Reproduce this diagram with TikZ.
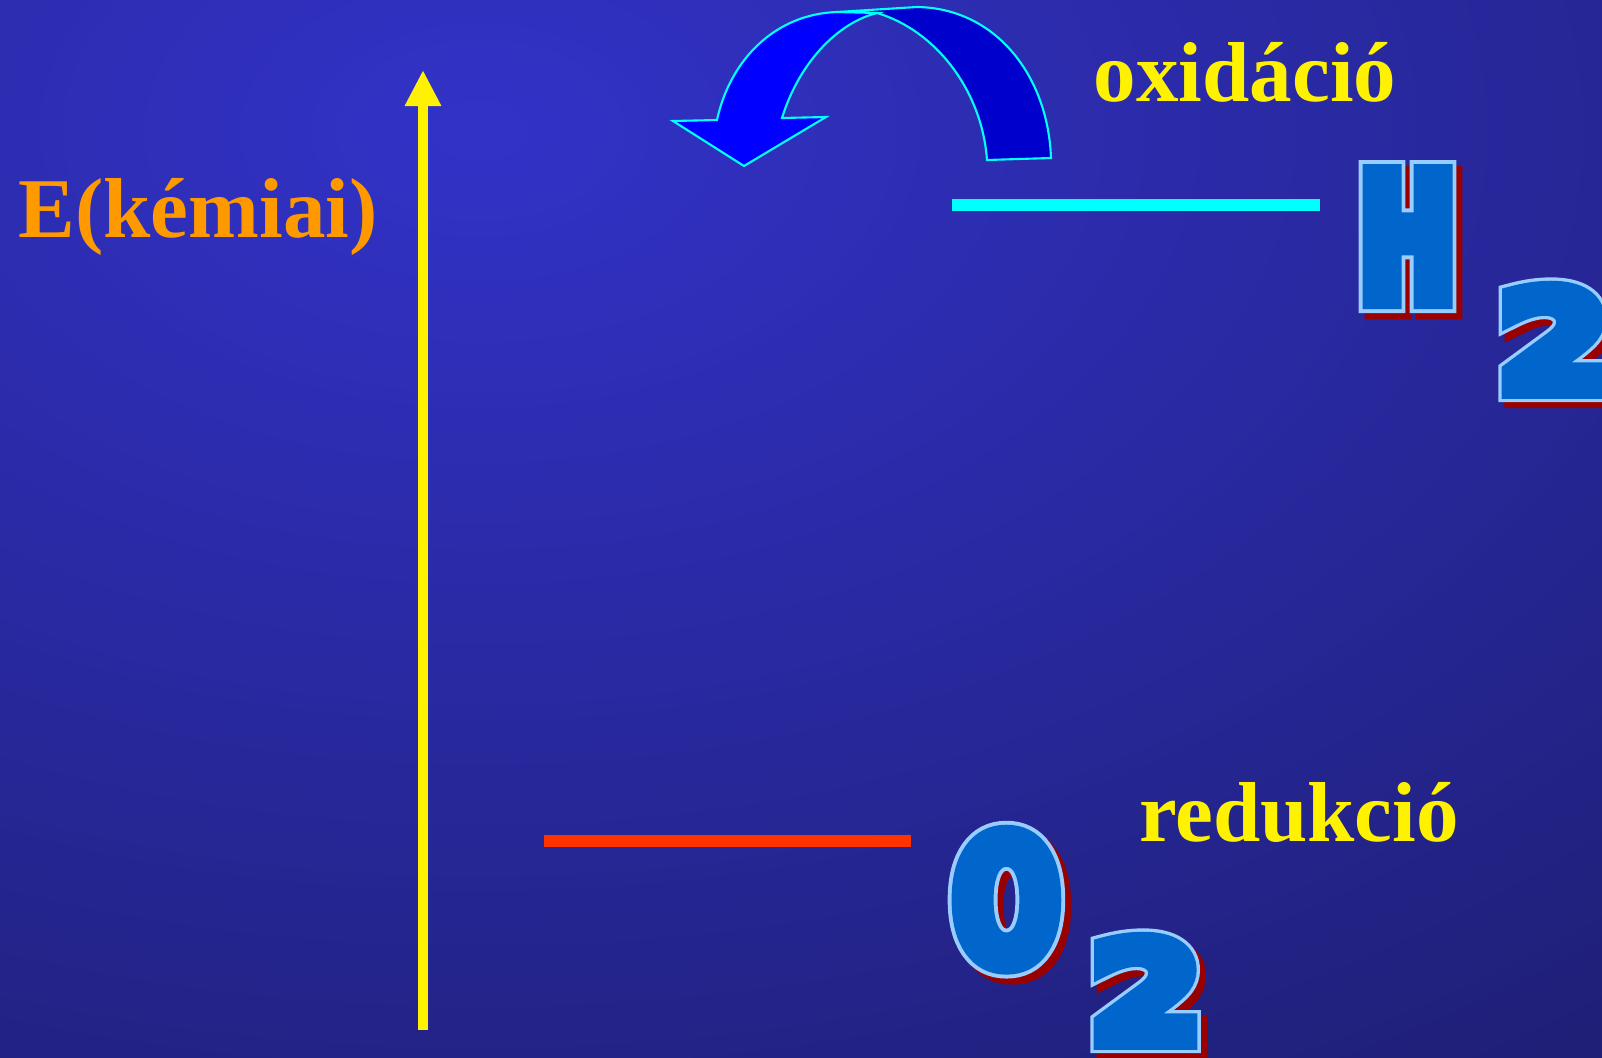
\documentclass[tikz,border=0pt]{standalone}
\usepackage{fontspec}
\setmainfont{Liberation Serif}
\newfontfamily\hbody{DejaVu Sans Bold}[FakeStretch=0.63, FakeBold=10.5]
\newfontfamily\hedge{DejaVu Sans Bold}[FakeStretch=0.63, FakeBold=15]
\newfontfamily\obody{DejaVu Sans Bold}[FakeStretch=0.7, FakeBold=10.5]
\newfontfamily\oedge{DejaVu Sans Bold}[FakeStretch=0.7, FakeBold=15]
\newfontfamily\digbody{DejaVu Sans Bold}[FakeStretch=1.2, FakeBold=13]
\newfontfamily\digedge{DejaVu Sans Bold}[FakeStretch=1.2, FakeBold=18]
\usetikzlibrary{arrows.meta}

\definecolor{bglight}{RGB}{50,50,200}
\definecolor{bgdark}{RGB}{26,26,98}
\definecolor{energyorange}{RGB}{255,153,0}
\definecolor{levelcyan}{RGB}{0,255,255}
\definecolor{levelred}{RGB}{255,51,0}
\definecolor{arrowfront}{RGB}{0,0,255}
\definecolor{arrowback}{RGB}{0,0,204}
\definecolor{symfillblue}{RGB}{0,102,204}
\definecolor{symedgeblue}{RGB}{153,204,255}
\definecolor{symshadowred}{RGB}{153,0,0}

\newcommand\symsize{\fontsize{49.5}{50}\selectfont}
\newcommand\digsize{\fontsize{38.5}{40}\selectfont}

\tikzset{
  level/.style={line width=1.2mm},
  word/.style={font=\bfseries\fontsize{24.2}{29}\selectfont, inner sep=0pt, anchor=base},
  symshadow/.style={text=symshadowred, anchor=base west, inner sep=0pt, xshift=0.6mm, yshift=-0.6mm},
  symedge/.style={text=symedgeblue, anchor=base west, inner sep=0pt},
  symfill/.style={text=symfillblue, anchor=base west, inner sep=0pt},
  curvedband/.style={draw=levelcyan, line width=0.6pt, line join=miter}
}

% betu vagy szam korvonallal es arnyekkal: nev, hely, kitoltes, korvonal, szoveg
\newcommand\chemglyph[5]{%
  \node[symshadow, font=#4] (#1s) at #2 {#5};
  \node[symedge, font=#4] (#1e) at #2 {#5};
  \node[symfill, font=#3] (#1) at #2 {#5};}

\begin{document}
\begin{tikzpicture}[x=0.1mm, y=-0.1mm]
        \useasboundingbox (0,0) rectangle (1602,1058);
        \clip (0,0) rectangle (1602,1058);

        % hatter
        \fill[bgdark] (0,0) rectangle (1602,1058);
        \shade[inner color=bglight, outer color=bgdark] (480,130) ellipse (2300 and 1450);

        % energia tengely
        \coordinate (axbot) at (423,1030);
        \coordinate (axtop) at (423,70);
        \draw[yellow, line width=1mm, -{Triangle[width=3.4mm,length=3.6mm]}] (axbot) -- (axtop);
        \node[word, text=energyorange] (elabel) at (198,237) {E(kémiai)};

        % szintek
        \coordinate (hydl) at (952,205);
        \coordinate (hydr) at (1320,205);
        \draw[level, levelcyan] (hydl) -- (hydr);
        \coordinate (oxyl) at (544,841);
        \coordinate (oxyr) at (911,841);
        \draw[level, levelred] (oxyl) -- (oxyr);

        % hajlitott nyil - hatso resz
        \fill[arrowback, curvedband] (877,13) .. controls (935,30) and (982,90) .. (987,160)
            -- (1051,158) .. controls (1048,75) and (995,8) .. (917,7) -- (837,12) -- cycle;
        % hajlitott nyil - elso resz
        \fill[arrowfront, curvedband] (837,12) .. controls (775,14) and (730,60) .. (717,120)
            -- (673,121) -- (744,166) -- (826,117) -- (782,118)
            .. controls (800,60) and (840,22) .. (877,13) -- cycle;

        % feliratok
        \node[word, text=yellow] (oxid) at (1245,101) {oxidáció};
        \node[word, text=yellow] (redu) at (1299,841) {redukció};

        % H2 es O2
        \chemglyph{hyd}{(1361,300)}{\hbody\symsize}{\hedge\symsize}{H}
        \chemglyph{hydtwo}{(1497,390)}{\digbody\digsize}{\digedge\digsize}{2}
        \chemglyph{oxy}{(954,963)}{\obody\symsize}{\oedge\symsize}{O}
        \chemglyph{oxytwo}{(1089,1041)}{\digbody\digsize}{\digedge\digsize}{2}
    \end{tikzpicture}
\end{document}
